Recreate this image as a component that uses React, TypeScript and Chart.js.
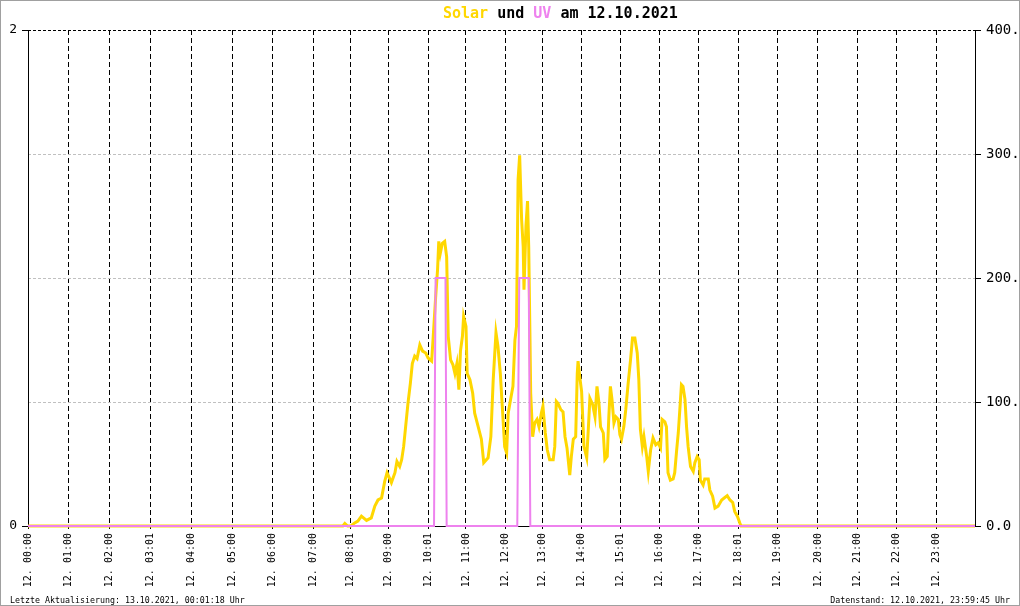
import React, { useEffect, useRef } from 'react';
import { Chart, registerables } from 'chart.js';

Chart.register(...registerables);

// x positions are in hours of the day (as placed along the original axis)
const tickHours = [0, 1.03, 2.07, 3.11, 4.15, 5.19, 6.2, 7.24, 8.17, 9.13, 10.14, 11.1, 12.09, 13.03, 14.02, 15.01, 16.0, 16.98, 18.0, 19.0, 20.02, 21.01, 22.02, 23.03];
const tickLabels = ['12. 00:00', '12. 01:00', '12. 02:00', '12. 03:01', '12. 04:00', '12. 05:00', '12. 06:00', '12. 07:00', '12. 08:01', '12. 09:00', '12. 10:01', '12. 11:00', '12. 12:00', '12. 13:00', '12. 14:00', '12. 15:01', '12. 16:00', '12. 17:00', '12. 18:01', '12. 19:00', '12. 20:00', '12. 21:00', '12. 22:00', '12. 23:00'];

// Solar radiation (W/m²), [hour, value]
const solarSamples: [number, number][] = [
  [0, 0], [7.98, 0], [8.03, 2], [8.1, 0], [8.18, 0], [8.28, 2.5], [8.36, 4], [8.45, 8], [8.58, 4.5], [8.7, 6.5],
  [8.79, 16], [8.87, 21], [8.96, 22.5], [9.04, 36], [9.1, 43], [9.21, 35], [9.3, 43], [9.35, 52], [9.42, 48], [9.47, 53.5],
  [9.52, 64], [9.57, 80], [9.63, 99], [9.69, 115], [9.74, 131], [9.8, 137], [9.86, 135], [9.93, 146], [10.0, 141], [10.08, 139.5],
  [10.14, 135.5], [10.23, 133], [10.27, 153], [10.33, 184], [10.38, 207], [10.41, 229.5], [10.45, 220], [10.5, 228], [10.56, 229.5], [10.61, 217],
  [10.65, 153], [10.71, 134], [10.77, 130], [10.82, 123], [10.87, 131], [10.92, 110], [10.96, 141], [11.01, 153], [11.04, 169], [11.1, 161],
  [11.13, 123], [11.2, 118], [11.27, 107], [11.32, 91], [11.41, 80], [11.49, 70], [11.55, 51], [11.66, 55], [11.73, 72], [11.79, 118],
  [11.86, 156], [11.91, 145], [11.97, 123], [12.03, 91], [12.08, 64], [12.13, 59], [12.17, 91], [12.23, 102], [12.29, 112.6], [12.34, 150],
  [12.38, 161], [12.42, 279], [12.46, 299], [12.51, 247], [12.55, 225], [12.57, 190.6], [12.62, 242], [12.66, 262], [12.69, 225], [12.72, 156],
  [12.74, 107], [12.79, 72], [12.84, 83], [12.9, 86], [12.95, 80], [13.01, 91], [13.05, 96.5], [13.11, 75], [13.16, 61.5], [13.22, 53.5],
  [13.31, 53.5], [13.35, 64], [13.39, 100.5], [13.43, 99], [13.5, 94], [13.56, 92], [13.61, 72], [13.66, 63], [13.73, 41], [13.77, 56],
  [13.82, 70], [13.88, 72], [13.92, 123], [13.94, 133], [13.98, 121], [14.03, 108.5], [14.09, 64], [14.16, 55], [14.2, 78], [14.24, 103],
  [14.31, 98], [14.37, 88], [14.42, 112.6], [14.47, 99], [14.51, 80], [14.58, 75], [14.62, 53.5], [14.68, 56], [14.72, 88], [14.76, 112.6],
  [14.8, 102], [14.85, 83], [14.9, 88], [14.96, 86], [15.0, 73.6], [15.04, 70], [15.1, 80], [15.15, 94], [15.21, 115], [15.27, 134],
  [15.32, 151.6], [15.38, 151.6], [15.44, 139.5], [15.48, 118], [15.52, 78], [15.57, 64], [15.61, 72], [15.68, 56], [15.72, 44], [15.78, 61.5],
  [15.84, 71], [15.91, 65.5], [15.97, 67], [16.03, 63], [16.07, 86], [16.14, 84], [16.18, 80], [16.22, 43], [16.28, 37], [16.35, 38],
  [16.39, 43], [16.44, 61.5], [16.48, 75], [16.52, 94], [16.56, 114], [16.6, 112.6], [16.65, 102], [16.69, 80], [16.73, 64], [16.79, 48],
  [16.86, 44], [16.9, 51], [16.96, 56], [17.01, 53.5], [17.04, 37], [17.11, 33], [17.15, 38], [17.24, 38], [17.28, 29], [17.35, 24],
  [17.41, 14.5], [17.49, 16], [17.58, 21], [17.66, 23], [17.72, 24.4], [17.79, 21], [17.86, 19], [17.91, 11.8], [17.98, 7.7], [18.04, 2.4],
  [18.07, 0], [24, 0],
];

// UV index, [hour, value]
const uvSamples: [number, number][] = [
  [0, 0], [10.29, 0], [10.33, 1], [10.58, 1], [10.61, 0], [12.4, 0], [12.45, 1], [12.69, 1], [12.73, 0], [24, 0],
];

const titleParts: [string, string][] = [
  ['Solar', '#FFD700'],
  [' und ', '#000000'],
  ['UV', '#EE82EE'],
  [' am 12.10.2021', '#000000'],
];
const footerLeft = 'Letzte Aktualisierung: 13.10.2021, 00:01:18 Uhr';
const footerRight = 'Datenstand: 12.10.2021, 23:59:45 Uhr';

const MONO = '"DejaVu Sans Mono", "Liberation Mono", monospace';

const decoPlugin = {
  id: 'deco',
  afterDraw(chart: any) {
    const ctx = chart.ctx as CanvasRenderingContext2D;
    ctx.save();
    ctx.strokeStyle = '#a0a0a0';
    ctx.lineWidth = 1;
    ctx.setLineDash([]);
    ctx.strokeRect(0.5, 0.5, 1019, 605);

    ctx.font = `bold 15px ${MONO}`;
    ctx.textBaseline = 'alphabetic';
    ctx.textAlign = 'left';
    let x = 443;
    for (const [t, c] of titleParts) {
      ctx.fillStyle = c;
      ctx.fillText(t, x, 18);
      x += ctx.measureText(t).width;
    }

    ctx.font = `8.3px ${MONO}`;
    ctx.fillStyle = '#000';
    ctx.textAlign = 'left';
    ctx.fillText(footerLeft, 10, 603);
    ctx.textAlign = 'right';
    ctx.fillText(footerRight, 1010, 603);
    ctx.restore();
  },
};

export default function App() {
  const canvasRef = useRef<HTMLCanvasElement | null>(null);

  useEffect(() => {
    document.body.style.margin = '0';
    const canvas = canvasRef.current;
    if (!canvas) return;
    const chart = new Chart(canvas, {
      type: 'line',
      data: {
        datasets: [
          {
            label: 'UV',
            data: uvSamples.map(([x, y]) => ({ x, y })),
            yAxisID: 'y',
            borderColor: '#EE82EE',
            borderWidth: 2,
            pointRadius: 0,
            tension: 0,
            fill: false,
            clip: 3,
            order: 0,
          },
          {
            label: 'Solar',
            data: solarSamples.map(([x, y]) => ({ x, y })),
            yAxisID: 'y2',
            borderColor: '#FFD700',
            borderWidth: 3,
            pointRadius: 0,
            tension: 0,
            fill: false,
            clip: 3,
            order: 1,
          },
        ],
      },
      options: {
        animation: false,
        responsive: false,
        devicePixelRatio: 1,
        layout: { padding: { top: 30, left: 0, right: 0, bottom: 0 } },
        plugins: {
          legend: { display: false },
          tooltip: { enabled: false },
          title: { display: false },
        },
        scales: {
          x: {
            type: 'linear',
            min: 0,
            max: 24,
            afterBuildTicks: (scale: any) => {
              scale.ticks = tickHours.map((v) => ({ value: v }));
            },
            afterFit: (scale: any) => {
              scale.height = 80;
            },
            ticks: {
              autoSkip: false,
              minRotation: 90,
              maxRotation: 90,
              padding: 4,
              color: '#000',
              font: { family: MONO, size: 10 },
              callback: (_v: any, i: number) => tickLabels[i],
            },
            grid: { color: '#000', lineWidth: 1, tickLength: 3, tickColor: '#000' },
            border: { color: '#000', width: 1, dash: [5, 3] },
          },
          y: {
            type: 'linear',
            position: 'left',
            min: 0,
            max: 2,
            afterFit: (scale: any) => {
              scale.width = 28;
            },
            ticks: { stepSize: 2, padding: 5, color: '#000', font: { family: MONO, size: 13 } },
            grid: { drawOnChartArea: false, tickLength: 6, color: '#000', tickColor: '#000' },
            border: { color: '#000', width: 1 },
          },
          y2: {
            type: 'linear',
            position: 'right',
            min: 0,
            max: 400,
            afterFit: (scale: any) => {
              scale.width = 45;
            },
            ticks: {
              stepSize: 100,
              padding: 5,
              color: '#000',
              font: { family: MONO, size: 14 },
              callback: (v: any) => Number(v).toFixed(1),
            },
            grid: {
              color: (ctx: any) => (ctx.tick && ctx.tick.value === 400 ? '#000' : '#c0c0c0'),
              tickColor: '#000',
              tickLength: 6,
              lineWidth: 1,
            },
            border: { color: '#000', width: 1, dash: [3, 2] },
          },
        },
      } as any,
      plugins: [decoPlugin],
    });
    return () => chart.destroy();
  }, []);

  return (
    <div style={{ position: 'absolute', left: 0, top: 0, width: 1020, height: 606 }}>
      <canvas ref={canvasRef} width={1020} height={606} style={{ display: 'block' }} />
    </div>
  );
}
